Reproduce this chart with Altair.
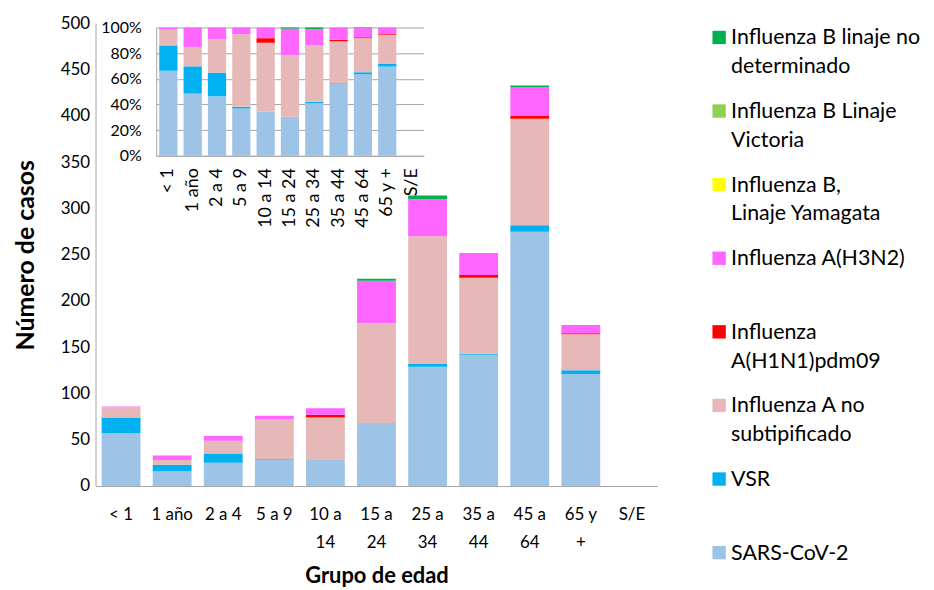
import json
import altair as alt
import pandas as pd

# ---------------- data ----------------
categories = ["< 1", "1 año", "2 a 4", "5 a 9", "10 a 14", "15 a 24",
              "25 a 34", "35 a 44", "45 a 64", "65 y +", "S/E"]
main_tick_labels = ["< 1", "1 año", "2 a 4", "5 a 9", "10 a|14", "15 a|24",
                    "25 a|34", "35 a|44", "45 a|64", "65 y|+", "S/E"]

# stacking order, bottom -> top
series = ["SARS-CoV-2", "VSR", "Influenza A no subtipificado",
          "Influenza A(H1N1)pdm09", "Influenza A(H3N2)",
          "Influenza B, Linaje Yamagata", "Influenza B Linaje Victoria",
          "Influenza B linaje no determinado"]
colors = ["#9DC3E6", "#00B0F0", "#E6B8B7", "#FF0000", "#FF66FF",
          "#FFFF00", "#92D050", "#00B050"]

sars_cov_2 = [57, 16, 25, 28, 29, 68, 129, 142, 275, 121, 0]
vsr = [17, 7, 10, 1, 0, 0, 3, 1, 7, 4, 0]
flu_a_no_subtip = [11, 5, 14, 43, 45, 108, 138, 82, 115, 39, 0]
flu_a_h1n1 = [0, 0, 0, 0, 3, 0, 0, 3, 3, 1, 0]
flu_a_h3n2 = [1, 5, 5, 4, 7, 46, 40, 24, 31, 9, 0]
flu_b_yamagata = [0, 0, 0, 0, 0, 0, 0, 0, 0, 0, 0]
flu_b_victoria = [0, 0, 0, 0, 0, 0, 0, 0, 0, 0, 0]
flu_b_no_det = [0, 0, 0, 0, 0, 2, 4, 0, 2, 0, 0]

legend_order = ["Influenza B linaje no determinado", "Influenza B Linaje Victoria",
                "Influenza B, Linaje Yamagata", "Influenza A(H3N2)",
                "Influenza A(H1N1)pdm09", "Influenza A no subtipificado",
                "VSR", "SARS-CoV-2"]
legend_labels = ["Influenza B linaje no\ndeterminado", "Influenza B Linaje\nVictoria",
                 "Influenza B,\n Linaje Yamagata", "Influenza A(H3N2)",
                 "Influenza\nA(H1N1)pdm09", "Influenza A no\nsubtipificado",
                 "VSR", "SARS-CoV-2"]

values_by_series = [sars_cov_2, vsr, flu_a_no_subtip, flu_a_h1n1, flu_a_h3n2,
                    flu_b_yamagata, flu_b_victoria, flu_b_no_det]

rows = []
for k, (s, vals) in enumerate(zip(series, values_by_series)):
    for c, v in zip(categories, vals):
        if v > 0:
            rows.append({"grupo": c, "serie": s, "casos": v, "orden": k})
df = pd.DataFrame(rows)
legend_df = pd.DataFrame({"serie": legend_order, "texto": legend_labels})

# ---------------- chart ----------------
W, H = 565, 465
FONT = "Lato"
GRAY = "#a6a6a6"

color = alt.Color("serie:N", scale=alt.Scale(domain=series, range=colors), legend=None)

label_expr = "split({}[indexof({}, datum.value)], '|')".format(
    json.dumps(main_tick_labels, ensure_ascii=False), json.dumps(categories, ensure_ascii=False))

main = alt.Chart(df).mark_bar().encode(
    x=alt.X("grupo:N", sort=categories,
            scale=alt.Scale(domain=categories, paddingInner=0.24, paddingOuter=0.12),
            axis=alt.Axis(title="Grupo de edad", labelAngle=0, labelExpr=label_expr,
                          labelFontSize=17, labelLineHeight=28, labelPadding=21,
                          labelColor="#000", labelOverlap=False, ticks=False,
                          domainColor=GRAY, titleFontSize=22, titleFontWeight="bold",
                          titleColor="#000", titlePadding=15)),
    y=alt.Y("casos:Q", stack="zero", scale=alt.Scale(domain=[0, 500]),
            axis=alt.Axis(title="Número de casos", values=list(range(0, 501, 50)),
                          grid=False, ticks=False, domainColor=GRAY, labelFontSize=17,
                          labelColor="#000", labelPadding=6, titleFontSize=25,
                          titleFontWeight="bold", titleColor="#000", titlePadding=22)),
    color=color,
    order=alt.Order("orden:Q"),
)

inset = alt.Chart(df).mark_bar().encode(
    x=alt.X("grupo:N", sort=categories,
            scale=alt.Scale(domain=categories, range=[61, 330], paddingInner=0.25,
                            paddingOuter=0.125),
            axis=alt.Axis(orient="bottom", offset=-(H - 133), title=None, labelAngle=270,
                          labelFontSize=18, labelPadding=12, labelColor="#000",
                          labelLimit=300, labelOverlap=False, ticks=False,
                          domainColor=GRAY)),
    y=alt.Y("casos:Q", stack="normalize",
            scale=alt.Scale(domain=[0, 1], range=[133, 4]),
            axis=alt.Axis(orient="left", offset=-61, title=None, format=".0%",
                          values=[0, 0.2, 0.4, 0.6, 0.8, 1.0], grid=True, gridColor=GRAY,
                          ticks=False, domainColor=GRAY, labelFontSize=16,
                          labelColor="#000", labelPadding=15)),
    color=color,
    order=alt.Order("orden:Q"),
)

leg_y = alt.Y("serie:N", sort=legend_order,
              scale=alt.Scale(type="point", domain=legend_order, range=[14, 532], padding=0),
              axis=None)

legend_sq = alt.Chart(legend_df).mark_square(size=180, opacity=1).encode(
    x=alt.value(627),
    y=leg_y,
    color=color,
)

legend_txt = alt.Chart(legend_df).mark_text(
    align="left", baseline="alphabetic", dy=7, fontSize=21.5, lineHeight=29,
    lineBreak="\n", color="#000", font=FONT,
).encode(
    x=alt.value(639),
    y=leg_y,
    text="texto:N",
)

chart = alt.layer(main, inset, legend_sq, legend_txt).resolve_scale(
    x="independent", y="independent"
).properties(width=W, height=H).configure(font=FONT).configure_view(stroke=None)

chart.save("out.html", embed_options={"renderer": "svg", "actions": False})
